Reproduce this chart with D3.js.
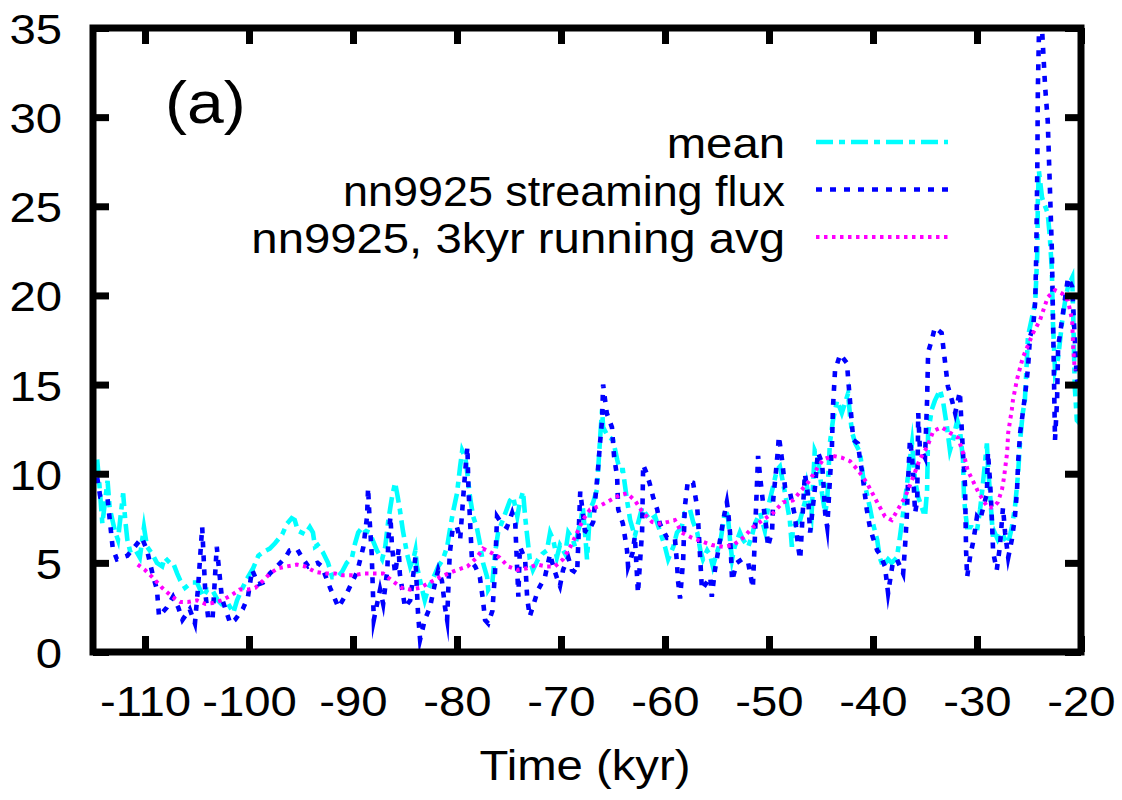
<!DOCTYPE html>
<html>
<head>
<meta charset="utf-8">
<script src="https://cdn.jsdelivr.net/npm/d3@7"></script>
<style>
  html, body { margin: 0; padding: 0; background: #fff; }
  svg { display: block; }
  text { font-family: "Liberation Sans", Arial, Helvetica, sans-serif; fill: #000; }
</style>
</head>
<body>
<svg id="chart" width="1122" height="800"></svg>
<script>
// Time axis (kyr) and flux axis ticks
const xTicks = [-110, -100, -90, -80, -70, -60, -50, -40, -30, -20];
const yTicks = [0, 5, 10, 15, 20, 25, 30, 35];
const xDomain = [-115, -20];
const yDomain = [0, 35];

const seriesNames = ["mean", "nn9925 streaming flux", "nn9925, 3kyr running avg"];
const panelLabel = "(a)";
const xTitle = "Time (kyr)";

// mean flux: [time kyr, value]
const meanSeries = [
  [-114.6,10.8],[-114.4,9.5],[-114.1,7.2],[-113.6,9.6],[-113.4,8.1],[-112.9,6.8],[-112.6,6.3],[-112.1,8.9],
  [-111.9,7.4],[-111.7,6.3],[-111.45,5.7],[-111.0,5.8],[-110.5,5.3],[-110.1,7.0],[-109.8,5.9],[-109.3,5.5],
  [-108.85,5.0],[-108.35,4.8],[-108.1,5.3],[-107.6,5.0],[-107.3,5.0],[-106.9,4.4],[-106.6,4.0],[-106.15,3.6],
  [-105.5,3.9],[-105.0,3.9],[-104.7,3.5],[-104.4,3.1],[-104.0,3.5],[-103.55,3.5],[-103.0,2.9],[-102.5,2.6],
  [-102.0,2.7],[-101.5,2.2],[-101.15,2.9],[-100.7,3.5],[-100.1,4.2],[-99.6,4.7],[-99.1,5.4],[-98.65,5.6],
  [-98.0,5.8],[-97.5,6.1],[-96.8,6.6],[-96.35,7.2],[-95.9,7.5],[-95.6,7.4],[-95.3,6.8],[-94.6,6.6],
  [-94.15,7.0],[-93.85,6.7],[-93.65,5.9],[-93.4,6.0],[-92.9,5.6],[-92.4,5.0],[-92.0,4.2],[-91.5,4.2],
  [-91.05,4.5],[-90.6,5.0],[-90.1,5.3],[-89.8,6.1],[-89.5,6.7],[-89.1,7.0],[-88.85,6.8],[-88.4,6.7],
  [-87.7,5.7],[-87.2,5.2],[-86.9,5.9],[-86.6,7.4],[-86.25,8.7],[-85.95,9.5],[-85.7,8.7],[-85.5,8.0],
  [-85.2,6.8],[-84.8,5.5],[-84.5,4.8],[-84.2,5.2],[-84.0,5.7],[-83.85,4.8],[-83.35,3.5],[-83.1,2.9],
  [-82.8,3.5],[-82.4,4.0],[-82.1,4.4],[-81.8,4.8],[-81.35,5.2],[-80.95,5.9],[-80.7,6.8],[-80.4,7.8],
  [-80.0,8.9],[-79.7,10.4],[-79.5,11.3],[-79.2,10.9],[-79.0,10.0],[-78.75,8.7],[-78.45,7.6],[-78.1,7.0],
  [-77.8,6.1],[-77.5,5.0],[-77.1,4.2],[-77.0,3.5],[-76.6,3.9],[-76.35,5.5],[-76.05,6.7],[-75.6,7.4],
  [-74.9,8.5],[-74.6,8.7],[-74.2,7.6],[-73.95,8.4],[-73.65,9.0],[-73.45,7.6],[-73.25,6.5],[-73.0,5.2],
  [-72.7,4.6],[-72.2,5.2],[-71.8,5.5],[-71.35,5.7],[-71.05,6.7],[-70.75,6.3],[-70.4,5.3],[-70.1,6.0],
  [-69.6,5.5],[-69.3,6.7],[-68.85,6.3],[-68.65,5.9],[-68.35,6.8],[-68.15,7.2],[-67.9,8.1],[-67.7,6.8],
  [-67.5,5.2],[-67.2,8.0],[-66.9,8.4],[-66.55,9.1],[-66.25,11.9],[-66.05,13.6],[-65.95,12.6],[-65.5,12.1],
  [-65.0,11.9],[-64.6,10.8],[-64.35,10.2],[-64.05,10.2],[-63.65,8.5],[-63.35,7.4],[-62.9,6.5],[-62.6,7.2],
  [-62.2,8.1],[-61.9,7.8],[-61.45,7.4],[-60.95,7.6],[-60.5,6.8],[-60.0,5.9],[-59.7,5.2],[-59.2,5.9],
  [-58.85,6.7],[-58.4,7.0],[-58.1,7.8],[-57.6,8.0],[-57.3,7.3],[-56.9,6.7],[-56.6,5.7],[-56.35,5.2],
  [-55.95,5.7],[-55.65,5.4],[-55.4,4.8],[-55.0,5.6],[-54.7,6.1],[-54.2,8.0],[-53.95,7.6],[-53.75,6.3],
  [-53.55,5.2],[-53.3,5.9],[-52.8,6.7],[-52.5,6.3],[-52.0,5.9],[-51.65,6.5],[-51.35,7.2],[-50.85,7.8],
  [-50.4,6.8],[-50.1,8.1],[-49.6,9.3],[-49.25,10.2],[-48.95,10.4],[-48.65,9.5],[-48.3,8.4],[-48.0,7.4],
  [-47.8,5.9],[-47.7,7.0],[-47.0,7.4],[-46.7,8.1],[-46.55,8.4],[-46.35,9.3],[-45.9,7.8],[-45.6,11.3],
  [-45.3,10.9],[-45.1,10.0],[-44.9,8.9],[-44.6,7.8],[-44.4,8.5],[-44.15,11.7],[-43.85,13.0],[-43.45,14.1],
  [-43.0,13.4],[-42.4,14.5],[-42.2,13.2],[-42.0,12.3],[-41.7,11.7],[-41.25,11.2],[-40.95,9.8],[-40.6,8.9],
  [-40.3,8.1],[-40.0,7.2],[-39.6,6.3],[-39.35,5.3],[-39.05,4.8],[-38.55,5.2],[-38.2,5.0],[-37.7,5.3],
  [-37.4,6.5],[-37.1,7.8],[-36.75,9.3],[-36.45,10.8],[-36.25,11.7],[-35.95,9.6],[-35.65,8.7],[-35.3,8.1],
  [-35.0,7.6],[-34.8,9.1],[-34.7,12.3],[-34.35,13.6],[-34.05,14.1],[-33.55,14.7],[-33.25,14.0],[-32.9,12.7],
  [-32.6,11.3],[-32.3,11.9],[-31.9,13.0],[-31.65,12.5],[-31.35,10.8],[-31.25,8.7],[-31.15,8.0],[-30.95,7.0],
  [-30.5,7.0],[-30.0,6.8],[-29.7,8.0],[-29.4,9.6],[-29.05,11.7],[-28.95,10.5],[-28.75,8.9],[-28.55,7.2],
  [-28.45,6.3],[-28.3,6.7],[-28.0,6.3],[-27.6,6.7],[-27.3,6.3],[-27.0,6.1],[-26.65,7.0],[-26.35,8.1],
  [-26.05,10.0],[-25.85,11.9],[-25.6,13.4],[-25.4,14.1],[-25.2,16.4],[-25.1,17.7],[-24.4,19.6],[-24.2,22.4],
  [-24.15,25.3],[-24.05,27.0],[-23.75,25.5],[-23.45,25.0],[-23.2,24.6],[-23.0,23.3],[-22.8,21.4],[-22.7,18.5],
  [-22.5,15.8],[-22.2,16.5],[-21.8,18.6],[-21.55,19.6],[-21.25,20.5],[-20.85,21.0],[-20.75,19.0],[-20.6,14.9],
  [-20.4,13.0],[-20.1,12.8]
];

// nn9925 streaming flux: [time kyr, value]
const fluxSeries = [
  [-114.6,9.8],[-114.3,8.7],[-113.6,8.6],[-113.1,5.8],[-112.7,5.2],[-112.2,5.3],[-111.7,5.4],[-111.0,5.9],
  [-110.3,6.4],[-109.8,5.7],[-109.2,4.2],[-108.85,3.5],[-108.65,2.0],[-107.9,2.5],[-107.3,3.1],[-106.8,2.5],
  [-106.4,1.8],[-105.7,2.4],[-105.2,1.6],[-104.9,3.6],[-104.5,7.0],[-104.2,3.3],[-103.9,1.8],[-103.5,1.9],
  [-103.1,5.9],[-102.6,3.0],[-101.8,1.6],[-101.35,1.8],[-100.6,2.4],[-100.1,3.1],[-99.7,4.6],[-99.1,3.8],
  [-98.65,3.9],[-98.0,4.4],[-97.3,4.8],[-96.5,5.3],[-96.1,5.7],[-95.4,5.8],[-94.9,5.3],[-94.3,4.8],
  [-93.4,5.0],[-93.0,4.8],[-92.2,3.6],[-91.4,2.5],[-90.6,3.3],[-89.6,4.5],[-89.0,5.9],[-88.65,7.6],
  [-88.55,9.2],[-88.4,7.4],[-88.2,5.5],[-88.0,1.8],[-87.4,3.5],[-87.1,2.7],[-86.7,4.6],[-86.6,6.3],
  [-86.4,7.6],[-86.25,5.9],[-85.95,4.4],[-85.6,5.8],[-85.5,4.4],[-85.0,2.5],[-84.5,2.9],[-84.0,5.3],
  [-83.75,2.2],[-83.55,0.7],[-83.1,1.8],[-82.6,2.5],[-82.1,3.9],[-81.8,4.6],[-81.45,4.0],[-81.15,2.5],
  [-80.95,1.8],[-80.85,3.3],[-80.7,5.5],[-80.4,7.0],[-80.0,7.0],[-79.7,6.3],[-79.4,8.7],[-79.2,10.2],
  [-79.0,11.5],[-78.9,9.2],[-78.75,7.4],[-78.55,5.0],[-78.25,4.8],[-77.8,4.2],[-77.5,2.9],[-77.3,1.8],
  [-77.0,1.6],[-76.6,2.3],[-76.35,4.4],[-76.15,7.6],[-75.7,7.2],[-75.2,7.0],[-74.7,7.8],[-74.4,7.2],
  [-74.1,3.1],[-73.95,5.9],[-73.45,5.2],[-73.25,3.0],[-73.0,2.0],[-72.2,3.5],[-71.55,4.2],[-71.05,5.5],
  [-70.75,4.8],[-70.3,4.0],[-70.1,3.7],[-69.8,4.6],[-69.3,5.3],[-68.95,4.6],[-68.45,4.4],[-68.15,9.0],
  [-67.7,6.8],[-67.4,6.7],[-66.9,7.3],[-66.45,10.2],[-66.25,11.7],[-66.05,13.0],[-65.95,15.0],[-65.6,13.4],
  [-65.1,12.6],[-64.9,11.0],[-64.6,9.8],[-64.5,8.0],[-64.05,7.2],[-63.65,5.7],[-63.55,4.8],[-63.1,5.6],
  [-62.9,6.5],[-62.6,3.3],[-62.2,6.8],[-62.1,10.5],[-61.75,10.0],[-61.45,9.4],[-61.15,8.7],[-60.75,8.0],
  [-60.5,7.2],[-59.8,6.4],[-59.05,6.4],[-58.85,5.0],[-58.75,4.0],[-58.55,3.0],[-58.25,5.2],[-58.1,8.1],
  [-57.8,9.6],[-57.3,9.5],[-56.9,8.1],[-56.8,7.2],[-56.45,3.5],[-55.65,4.2],[-55.5,3.1],[-55.2,4.6],
  [-54.7,6.3],[-54.4,7.4],[-54.05,8.4],[-53.95,8.0],[-53.75,6.7],[-53.55,4.0],[-53.1,5.0],[-52.6,5.2],
  [-52.0,5.0],[-51.55,3.6],[-51.05,11.0],[-50.85,9.8],[-50.6,8.5],[-50.2,6.7],[-50.1,5.9],[-49.7,6.8],
  [-49.6,8.5],[-49.35,10.0],[-49.15,11.3],[-49.05,12.1],[-48.75,10.8],[-48.45,9.2],[-48.0,9.0],[-47.5,7.6],
  [-47.2,5.9],[-47.0,5.2],[-46.55,10.0],[-46.25,8.8],[-46.05,6.7],[-45.6,9.1],[-45.3,11.2],[-44.9,10.6],
  [-44.8,9.8],[-44.6,7.8],[-44.4,7.0],[-44.15,9.6],[-43.95,11.5],[-43.85,13.7],[-43.65,15.8],[-43.15,16.7],
  [-42.5,16.2],[-42.4,15.4],[-42.2,14.0],[-41.9,11.9],[-41.45,11.7],[-41.25,10.8],[-41.05,10.1],[-40.75,8.7],
  [-40.6,8.0],[-40.3,7.0],[-40.0,6.4],[-39.6,5.7],[-39.35,5.5],[-38.85,4.8],[-38.55,3.3],[-38.1,5.0],
  [-37.7,5.2],[-37.1,4.4],[-36.9,6.1],[-36.75,7.6],[-36.65,9.3],[-36.45,11.9],[-36.25,11.0],[-36.15,10.1],
  [-35.95,7.8],[-35.75,8.5],[-35.65,13.4],[-35.5,11.5],[-35.0,10.9],[-34.8,14.1],[-34.7,16.8],[-34.35,17.5],
  [-34.05,18.2],[-33.4,17.9],[-33.1,16.4],[-32.8,14.9],[-32.4,14.1],[-32.1,13.4],[-31.65,14.6],[-31.35,11.2],
  [-31.15,9.3],[-31.05,5.7],[-30.95,4.2],[-30.65,5.4],[-30.4,6.1],[-30.2,6.8],[-30.0,7.6],[-29.7,7.4],
  [-29.4,8.1],[-29.05,8.9],[-28.95,11.2],[-28.75,9.6],[-28.65,8.5],[-28.55,7.2],[-28.45,5.6],[-28.1,4.6],
  [-27.8,5.9],[-27.6,7.4],[-27.5,8.1],[-27.3,6.7],[-27.0,5.3],[-26.65,6.3],[-26.35,7.6],[-26.15,9.1],
  [-26.05,10.6],[-25.85,12.3],[-25.6,13.4],[-25.4,14.3],[-25.1,15.9],[-24.9,17.7],[-24.6,18.2],[-24.4,19.7],
  [-24.3,22.4],[-24.2,27.2],[-24.15,31.5],[-24.0,36.0],[-23.75,35.0],[-23.45,31.7],[-23.2,29.8],[-23.0,26.2],
  [-22.8,22.5],[-22.7,19.0],[-22.5,11.9],[-22.3,14.1],[-22.2,17.1],[-22.0,17.9],[-21.25,21.0],[-20.85,20.5],
  [-20.4,15.3],[-20.0,14.5]
];

// nn9925, 3 kyr running average: [time kyr, value]
const avgSeries = [
  [-110.7,4.9],[-110.0,4.6],[-109.3,4.2],[-108.35,3.6],[-107.4,3.1],[-106.6,2.8],[-105.9,2.8],[-105.0,2.9],
  [-104.2,2.7],[-103.5,2.75],[-102.6,2.9],[-101.65,3.2],[-100.9,3.5],[-100.1,3.5],[-99.4,3.6],[-98.65,4.0],
  [-98.0,4.4],[-97.2,4.7],[-96.35,4.8],[-95.4,4.9],[-94.6,4.8],[-93.65,4.5],[-92.7,4.4],[-91.7,4.4],
  [-91.0,4.3],[-90.0,4.3],[-89.0,4.4],[-88.1,4.4],[-87.1,4.4],[-86.25,4.0],[-85.3,3.6],[-84.5,3.5],
  [-83.55,3.6],[-82.6,3.9],[-81.65,4.2],[-80.85,4.4],[-80.0,4.6],[-79.0,4.8],[-78.1,5.3],[-77.5,5.8],
  [-76.8,5.6],[-75.9,5.3],[-75.1,4.8],[-74.2,4.6],[-73.25,4.7],[-72.3,4.9],[-71.35,4.8],[-70.6,4.8],
  [-69.8,5.2],[-69.1,5.9],[-68.45,6.7],[-67.9,7.4],[-67.2,8.0],[-66.25,8.2],[-65.3,8.5],[-64.35,8.8],
  [-63.65,8.9],[-62.9,8.5],[-62.1,7.8],[-61.25,7.3],[-60.5,7.2],[-59.7,7.3],[-59.05,7.4],[-58.4,6.7],
  [-57.4,6.4],[-56.45,6.2],[-55.5,6.0],[-54.4,5.9],[-53.45,6.0],[-52.5,6.4],[-51.55,7.0],[-50.6,7.4],
  [-49.6,7.8],[-48.65,8.4],[-47.7,8.5],[-47.0,9.0],[-46.25,9.5],[-45.6,10.1],[-44.8,10.8],[-43.85,11.0],
  [-43.0,10.9],[-42.2,10.7],[-41.45,10.2],[-40.6,9.5],[-39.6,8.4],[-38.85,7.6],[-38.2,7.4],[-37.6,8.0],
  [-36.9,8.7],[-36.15,9.8],[-35.5,10.8],[-34.8,11.5],[-34.2,12.4],[-33.4,12.6],[-32.6,12.3],[-31.8,12.0],
  [-31.15,10.8],[-30.9,10.2],[-30.4,9.6],[-29.9,9.0],[-29.4,8.5],[-28.95,8.1],[-28.45,8.1],[-28.0,8.4],
  [-27.6,9.1],[-27.4,9.8],[-27.1,11.2],[-27.0,12.3],[-26.65,13.6],[-26.55,14.1],[-26.15,15.3],[-25.6,16.5],
  [-24.6,17.9],[-23.95,18.6],[-23.2,19.9],[-22.5,20.3],[-21.8,20.1],[-21.25,19.7],[-20.85,18.6],[-20.75,17.1],
  [-20.6,15.8]
];

// ---- layout ----
const W = 1122, H = 800;
const plot = { left: 93, right: 1081, top: 28, bottom: 652 };
const textStretch = 1.1;   // glyphs are drawn slightly widened
const legendStretch = [1.1, 1.045, 1.1];
const fontSize = 43;

const svg = d3.select("#chart");
svg.append("rect").attr("width", W).attr("height", H).attr("fill", "#fff");

const x = d3.scaleLinear().domain(xDomain).range([plot.left, plot.right]);
const y = d3.scaleLinear().domain(yDomain).range([plot.bottom, plot.top]);

svg.append("defs").append("clipPath").attr("id", "plotClip")
  .append("rect")
  .attr("x", plot.left).attr("y", plot.top)
  .attr("width", plot.right - plot.left).attr("height", plot.bottom - plot.top);

const styles = [
  { color: "#00ffff", width: 4.6, dash: "17,6,6,6" },
  { color: "#0000ff", width: 4.6, dash: "6,8" },
  { color: "#ff00ff", width: 4.0, dash: "3.5,4.5" }
];
const seriesData = [meanSeries, fluxSeries, avgSeries];

const line = d3.line().x(d => x(d[0])).y(d => y(d[1]));

const gLines = svg.append("g").attr("clip-path", "url(#plotClip)");
seriesData.forEach((data, i) => {
  gLines.append("path")
    .datum(data)
    .attr("d", line)
    .attr("fill", "none")
    .attr("stroke", styles[i].color)
    .attr("stroke-width", styles[i].width)
    .attr("stroke-dasharray", styles[i].dash)
    .attr("stroke-linejoin", "miter")
    .attr("stroke-miterlimit", 10)
    .attr("stroke-linecap", "butt");
});

// ---- axes: inward ticks on all four sides ----
const tickLen = 16, axisStroke = 7;
const plainNumber = d => String(d);   // ASCII hyphen for negatives
function styleAxis(g) {
  g.select(".domain").remove();
  g.selectAll(".tick line").attr("stroke", "#000").attr("stroke-width", axisStroke);
}

svg.append("g").attr("transform", `translate(0,${plot.bottom})`)
  .call(d3.axisBottom(x).tickValues(xTicks).tickFormat(plainNumber)
    .tickSizeInner(-tickLen).tickSizeOuter(0).tickPadding(33))
  .call(styleAxis)
  .call(g => g.selectAll(".tick text")
    .attr("font-size", fontSize).attr("fill", "#000")
    .attr("font-family", "'Liberation Sans', Arial, sans-serif")
    .attr("transform", `scale(${textStretch},1)`));

svg.append("g").attr("transform", `translate(0,${plot.top})`)
  .call(d3.axisTop(x).tickValues(xTicks).tickSizeInner(-tickLen).tickSizeOuter(0).tickFormat(""))
  .call(styleAxis);

svg.append("g").attr("transform", `translate(${plot.left},0)`)
  .call(d3.axisLeft(y).tickValues(yTicks).tickFormat(plainNumber)
    .tickSizeInner(-tickLen).tickSizeOuter(0).tickPadding(0))
  .call(styleAxis)
  .call(g => g.selectAll(".tick text")
    .attr("font-size", fontSize).attr("fill", "#000")
    .attr("font-family", "'Liberation Sans', Arial, sans-serif")
    .attr("x", 0).attr("dy", "0.36em")
    .attr("transform", `translate(-31,0) scale(${textStretch},1)`));

svg.append("g").attr("transform", `translate(${plot.right},0)`)
  .call(d3.axisRight(y).tickValues(yTicks).tickSizeInner(-tickLen).tickSizeOuter(0).tickFormat(""))
  .call(styleAxis);

// frame
svg.append("rect")
  .attr("x", plot.left).attr("y", plot.top)
  .attr("width", plot.right - plot.left).attr("height", plot.bottom - plot.top)
  .attr("fill", "none").attr("stroke", "#000").attr("stroke-width", axisStroke);

// ---- texts ----
function stretchedText(tx, ty, str, size, anchor, sx) {
  svg.append("text")
    .attr("transform", `translate(${tx},${ty}) scale(${sx || textStretch},1)`)
    .attr("text-anchor", anchor)
    .attr("font-size", size)
    .text(str);
}

stretchedText((plot.left + plot.right) / 2 - 2, 780, xTitle, fontSize, "middle");
stretchedText(165, 123, panelLabel, 60, "start");

// legend
const legendRowY = [142, 189.5, 237];
const legendTextRight = 785, legendLineX = [816, 948];
seriesNames.forEach((name, i) => {
  stretchedText(legendTextRight, legendRowY[i] + 16, name, fontSize, "end", legendStretch[i]);
  svg.append("line")
    .attr("x1", legendLineX[0]).attr("x2", legendLineX[1])
    .attr("y1", legendRowY[i]).attr("y2", legendRowY[i])
    .attr("stroke", styles[i].color)
    .attr("stroke-width", styles[i].width)
    .attr("stroke-dasharray", styles[i].dash);
});
</script>
</body>
</html>
